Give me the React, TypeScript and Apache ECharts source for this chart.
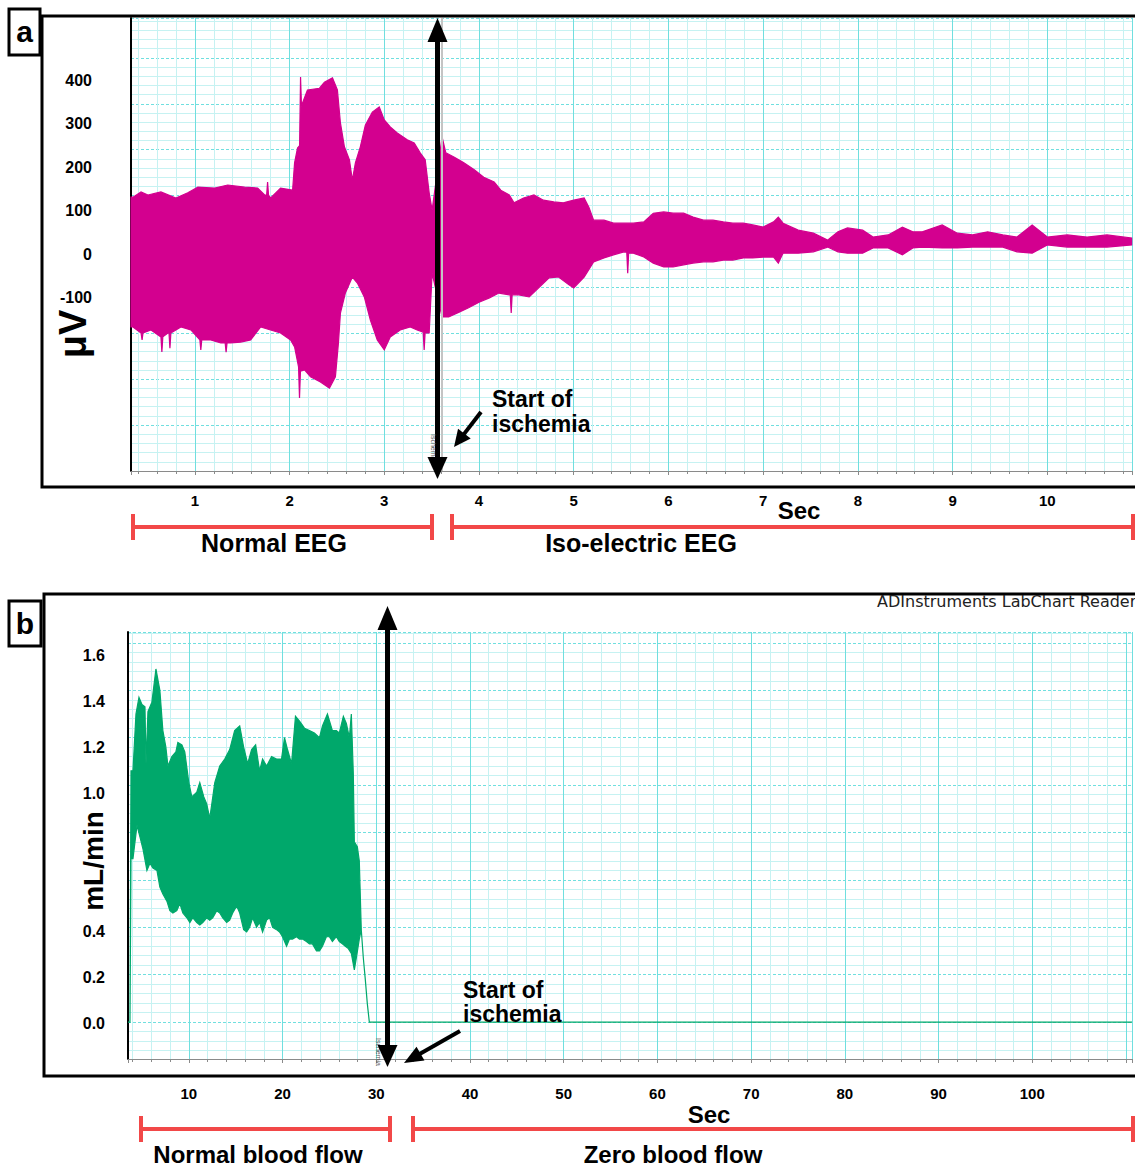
import React, { useEffect, useRef } from 'react';
import * as echarts from 'echarts';

// ---------- Panel a: EEG envelope (time in s, amplitude in µV) ----------
const eegUpper: [number, number][] = [
  [0.326, 131], [0.347, 131], [0.432, 143], [0.505, 136], [0.642, 143], [0.8, 129], [0.926, 141], [1.032, 154],
  [1.21, 152], [1.347, 159], [1.526, 154], [1.663, 152], [1.737, 136], [1.758, 136], [1.768, 166], [1.778, 136],
  [1.8, 129], [1.905, 152], [2.032, 147], [2.053, 210], [2.084, 244], [2.106, 250], [2.116, 408], [2.126, 340],
  [2.137, 348], [2.189, 378], [2.316, 382], [2.368, 396], [2.453, 406], [2.505, 378], [2.537, 302], [2.579, 247],
  [2.632, 217], [2.663, 170], [2.695, 210], [2.747, 247], [2.8, 297], [2.874, 327], [2.947, 339], [3.0, 309],
  [3.063, 293], [3.137, 279], [3.242, 263], [3.316, 256], [3.379, 233], [3.432, 217], [3.474, 141], [3.505, 101],
  [3.61, 270], [3.65, 233], [3.74, 223], [3.84, 210], [3.95, 194], [4.05, 177], [4.16, 166], [4.23, 147],
  [4.32, 136], [4.37, 118], [4.47, 129], [4.58, 136], [4.68, 124], [4.79, 120], [4.89, 118], [5.0, 124],
  [5.11, 129], [5.16, 108], [5.21, 78], [5.32, 78], [5.42, 71], [5.53, 71], [5.63, 71], [5.74, 74],
  [5.84, 94], [5.95, 97], [6.05, 94], [6.16, 94], [6.26, 85], [6.37, 78], [6.47, 78], [6.58, 74],
  [6.68, 71], [6.79, 71], [6.89, 67], [7.0, 62], [7.11, 74], [7.16, 85], [7.21, 71], [7.37, 55],
  [7.53, 48], [7.68, 32], [7.79, 51], [7.89, 60], [8.05, 55], [8.16, 39], [8.32, 44], [8.47, 62],
  [8.58, 51], [8.68, 51], [8.89, 67], [9.05, 48], [9.21, 44], [9.37, 51], [9.53, 44], [9.68, 39],
  [9.84, 67], [10.0, 39], [10.21, 44], [10.42, 39], [10.63, 44], [10.89, 37]
];
const eegLower: [number, number][] = [
  [0.326, -168], [0.347, -168], [0.432, -182], [0.443, -198], [0.453, -182], [0.537, -175], [0.642, -191], [0.652, -226],
  [0.662, -191], [0.716, -182], [0.727, -182], [0.737, -217], [0.747, -182], [0.853, -168], [0.958, -175], [1.053, -198],
  [1.063, -221], [1.073, -198], [1.168, -198], [1.274, -205], [1.32, -205], [1.33, -226], [1.34, -205], [1.379, -205],
  [1.484, -203], [1.589, -198], [1.695, -168], [1.8, -175], [1.905, -182], [2.011, -198], [2.053, -214], [2.095, -260],
  [2.105, -332], [2.115, -270], [2.158, -267], [2.221, -283], [2.326, -295], [2.421, -309], [2.484, -283], [2.516, -205],
  [2.537, -136], [2.589, -90], [2.663, -53], [2.716, -67], [2.789, -99], [2.853, -152], [2.926, -198], [3.0, -221],
  [3.063, -191], [3.168, -175], [3.274, -168], [3.347, -175], [3.411, -180], [3.421, -221], [3.431, -182], [3.474, -182],
  [3.505, -44], [3.61, -145], [3.68, -145], [3.79, -134], [3.89, -124], [4.0, -111], [4.11, -101], [4.21, -90],
  [4.32, -94], [4.33, -94], [4.34, -136], [4.35, -94], [4.42, -94], [4.53, -99], [4.63, -78], [4.74, -55],
  [4.84, -53], [4.95, -71], [5.0, -78], [5.11, -53], [5.21, -18], [5.32, -9], [5.42, -2], [5.53, 5],
  [5.56, 4], [5.57, -44], [5.58, 2], [5.63, 2], [5.74, -7], [5.84, -21], [5.95, -30], [6.05, -30],
  [6.16, -25], [6.26, -21], [6.37, -18], [6.47, -18], [6.58, -14], [6.68, -14], [6.79, -9], [6.89, -9],
  [7.0, -7], [7.11, -7], [7.16, -21], [7.21, 2], [7.37, 2], [7.53, 5], [7.68, 16], [7.79, 5],
  [7.89, 2], [8.05, 2], [8.16, 14], [8.32, 14], [8.47, -2], [8.58, 14], [8.68, 16], [8.89, 14],
  [9.05, 14], [9.21, 16], [9.37, 16], [9.53, 16], [9.68, 5], [9.84, 2], [10.0, 21], [10.21, 16],
  [10.42, 16], [10.63, 16], [10.89, 21]
];

// ---------- Panel b: blood flow envelope (time in s, mL/min) ----------
const flowUpper: [number, number][] = [
  [3.51, 0], [3.72, 0], [3.83, 1.06], [4.04, 1.06], [4.36, 1.3], [4.68, 1.37], [5.0, 1.34], [5.32, 1.33],
  [5.43, 1.09], [5.64, 1.31], [6.06, 1.35], [6.49, 1.49], [6.91, 1.4], [7.23, 1.23], [7.55, 1.16], [7.77, 1.08],
  [8.19, 1.12], [8.62, 1.14], [8.83, 1.18], [9.26, 1.17], [9.57, 1.14], [10.0, 1.01], [10.32, 0.95], [10.85, 0.97],
  [11.17, 1.01], [11.6, 0.95], [11.91, 0.92], [12.23, 0.86], [12.45, 0.92], [12.77, 1.01], [13.3, 1.08], [13.83, 1.11],
  [14.36, 1.15], [14.89, 1.23], [15.43, 1.25], [15.85, 1.16], [16.28, 1.09], [16.7, 1.15], [17.13, 1.17], [17.55, 1.06],
  [17.87, 1.11], [18.3, 1.08], [18.83, 1.12], [19.36, 1.11], [19.89, 1.11], [20.21, 1.2], [20.53, 1.15], [20.96, 1.09],
  [21.38, 1.29], [21.81, 1.27], [22.34, 1.24], [22.87, 1.23], [23.4, 1.22], [23.94, 1.2], [24.26, 1.25], [24.79, 1.3],
  [25.32, 1.23], [25.74, 1.23], [26.06, 1.22], [26.49, 1.29], [26.81, 1.26], [27.13, 1.2], [27.34, 1.3], [27.55, 1.05],
  [27.66, 0.76], [27.98, 0.74], [28.19, 0.68], [28.4, 0.39], [28.62, 0.27], [28.83, 0.18], [29.04, 0.08], [29.26, 0],
  [110.64, 0]
];
const flowLower: [number, number][] = [
  [3.51, 0], [3.72, 0], [3.83, 0.69], [4.04, 0.69], [4.47, 0.83], [4.79, 0.78], [5.11, 0.73], [5.53, 0.64],
  [5.85, 0.67], [6.17, 0.65], [6.6, 0.64], [6.91, 0.57], [7.23, 0.54], [7.66, 0.51], [7.98, 0.47], [8.3, 0.46],
  [8.72, 0.47], [9.04, 0.5], [9.36, 0.46], [9.79, 0.44], [10.11, 0.42], [10.43, 0.44], [10.85, 0.42], [11.17, 0.41],
  [11.49, 0.42], [11.91, 0.44], [12.23, 0.43], [12.55, 0.44], [12.98, 0.47], [13.3, 0.46], [13.62, 0.44], [14.04, 0.42],
  [14.36, 0.43], [14.68, 0.46], [15.11, 0.49], [15.43, 0.46], [15.85, 0.39], [16.17, 0.38], [16.49, 0.4], [16.81, 0.44],
  [17.23, 0.4], [17.55, 0.42], [17.87, 0.38], [18.3, 0.43], [18.62, 0.44], [18.94, 0.4], [19.36, 0.39], [19.68, 0.38],
  [20.0, 0.36], [20.43, 0.32], [20.74, 0.35], [21.06, 0.35], [21.49, 0.36], [21.81, 0.35], [22.13, 0.35], [22.55, 0.34],
  [22.87, 0.33], [23.19, 0.33], [23.62, 0.3], [23.94, 0.3], [24.26, 0.32], [24.68, 0.36], [25.0, 0.36], [25.32, 0.34],
  [25.74, 0.36], [26.06, 0.34], [26.38, 0.33], [26.7, 0.32], [27.02, 0.31], [27.34, 0.29], [27.66, 0.22], [27.87, 0.27],
  [28.19, 0.35], [28.4, 0.39], [28.62, 0.27], [28.83, 0.18], [29.04, 0.08], [29.26, 0], [110.64, 0]
];

// ---------- tick labels ----------
const eegTickLabels = [-100, 0, 100, 200, 300, 400];
const eegSecLabels = [1, 2, 3, 4, 5, 6, 7, 8, 9, 10];
const flowTickLabels = [0.0, 0.2, 0.4, 1.0, 1.2, 1.4, 1.6];
const flowSecLabels = [10, 20, 30, 40, 50, 60, 70, 80, 90, 100];

const MAGENTA = '#d3008f';
const GREEN = '#00a86b';
const GRID_MAJOR = '#70dfdf';
const GRID_MINOR = '#c6f2f2';
const RED = '#f24848';
const FONT = "'Liberation Sans', Arial, Helvetica, sans-serif";

function bandRenderer(upper: [number, number][], lower: [number, number][], color: string) {
  return (params: any, api: any) => {
    if (params.dataIndex !== 0) return null;
    const pts: number[][] = [];
    for (let i = 0; i < upper.length; i++) pts.push(api.coord(upper[i]));
    for (let i = lower.length - 1; i >= 0; i--) pts.push(api.coord(lower[i]));
    return {
      type: 'polygon',
      shape: { points: pts },
      style: { fill: color, stroke: color, lineWidth: 1.2 }
    };
  };
}

const txt = (text: string, x: number, y: number, size: number, o: any = {}) => ({
  type: 'text',
  x,
  y,
  z: 100,
  rotation: o.rotation || 0,
  style: {
    text,
    fontSize: size,
    fontWeight: o.weight || 'bold',
    fontFamily: o.family || FONT,
    fill: o.color || '#000',
    textAlign: o.align || 'center',
    textVerticalAlign: 'middle',
    align: o.align || 'center',
    verticalAlign: 'middle'
  }
});

const seg = (x1: number, y1: number, x2: number, y2: number, w: number, color: string) => ({
  type: 'line',
  z: 100,
  shape: { x1, y1, x2, y2 },
  style: { stroke: color, lineWidth: w }
});

const head = (tipX: number, tipY: number, fromX: number, fromY: number, len: number, half: number) => {
  const dx = tipX - fromX;
  const dy = tipY - fromY;
  const L = Math.hypot(dx, dy);
  const ux = dx / L;
  const uy = dy / L;
  const bx = tipX - ux * len;
  const by = tipY - uy * len;
  return {
    type: 'polygon',
    z: 101,
    shape: { points: [[tipX, tipY], [bx - uy * half, by + ux * half], [bx + uy * half, by - ux * half]] },
    style: { fill: '#000' }
  };
};

const arrow = (fx: number, fy: number, tx: number, ty: number, w: number, len: number, half: number) => {
  const dx = tx - fx;
  const dy = ty - fy;
  const L = Math.hypot(dx, dy);
  const bx = tx - (dx / L) * (len - 2);
  const by = ty - (dy / L) * (len - 2);
  return [seg(fx, fy, bx, by, w, '#000'), head(tx, ty, fx, fy, len, half)];
};

const bracket = (x1: number, x2: number, y: number, h: number) => [
  seg(x1, y, x2, y, 4, RED),
  seg(x1, y - h, x1, y + h, 4, RED),
  seg(x2, y - h, x2, y + h, 4, RED)
];

const labelStyle = { fontSize: 15, fontWeight: 'bold', color: '#000', fontFamily: FONT };

export default function App() {
  const ref = useRef<HTMLDivElement>(null);

  useEffect(() => {
    if (!ref.current) return;
    const chart = echarts.init(ref.current, null, { renderer: 'svg' });

    const graphics: any[] = [
      // ----- panel a frame & label -----
      { type: 'rect', z: 99, shape: { x: 42, y: 16, width: 1200, height: 471 }, style: { fill: 'none', stroke: '#000', lineWidth: 3 } },
      { type: 'rect', z: 99, shape: { x: 9, y: 9, width: 31, height: 46 }, style: { fill: '#fff', stroke: '#000', lineWidth: 3 } },
      txt('a', 24.5, 31, 30),
      txt('μV', 73, 334, 38, { rotation: Math.PI / 2 }),
      txt('Sec', 799, 510, 24),
      ...bracket(133, 432, 527, 13),
      ...bracket(452, 1133, 527, 13),
      txt('Normal EEG', 274, 543, 25),
      txt('Iso-electric EEG', 641, 543, 25),
      seg(442, 18, 442, 471, 2, '#c4c4c4'),
      seg(437.5, 38, 437.5, 460, 5, '#000'),
      head(437.5, 18, 437.5, 60, 24, 10),
      head(437.5, 479, 437.5, 440, 22, 10),
      txt('Ischemia', 433, 448, 7, { rotation: -Math.PI / 2, weight: 'normal', color: '#555' }),
      txt('Start of', 492, 399, 23, { align: 'left' }),
      txt('ischemia', 492, 424, 23, { align: 'left' }),
      ...arrow(481, 412, 454, 447, 4, 17, 8),

      // ----- panel b frame & label -----
      { type: 'rect', z: 99, shape: { x: 44, y: 594, width: 1200, height: 482 }, style: { fill: 'none', stroke: '#000', lineWidth: 3 } },
      { type: 'rect', z: 99, shape: { x: 9, y: 601, width: 32, height: 45 }, style: { fill: '#fff', stroke: '#000', lineWidth: 3 } },
      txt('b', 25, 623, 30),
      txt('ADInstruments LabChart Reader', 877, 601, 16, { align: 'left', weight: 'normal', family: "'DejaVu Sans', sans-serif", color: '#222' }),
      txt('mL/min', 93, 861, 28, { rotation: Math.PI / 2 }),
      txt('Sec', 709, 1114, 24),
      ...bracket(141, 390, 1129, 13),
      ...bracket(413, 1133, 1129, 13),
      txt('Normal blood flow', 258, 1154, 24),
      txt('Zero blood flow', 673, 1154, 24),
      seg(387.5, 626, 387.5, 1048, 5, '#000'),
      head(387.5, 606, 387.5, 650, 24, 10),
      head(387.5, 1067, 387.5, 1030, 22, 10),
      txt('Ischemia', 378, 1052, 7, { rotation: -Math.PI / 2, weight: 'normal', color: '#555' }),
      txt('Start of', 463, 990, 23, { align: 'left' }),
      txt('ischemia', 463, 1014, 23, { align: 'left' }),
      ...arrow(460, 1031, 404, 1063, 4, 19, 8)
    ];

    const option: any = {
      animation: false,
      backgroundColor: '#fff',
      grid: [
        { left: 131, top: 18, width: 1004, height: 453 },
        { left: 128, top: 632, width: 1007, height: 427 }
      ],
      xAxis: [
        {
          gridIndex: 0,
          type: 'value',
          min: 0.326,
          max: 10.894,
          minInterval: 1,
          maxInterval: 1,
          splitNumber: 10,
          axisLine: { show: true, onZero: false, lineStyle: { color: '#8a8a8a', width: 1 } },
          axisTick: { show: true, length: 4, lineStyle: { color: '#8a8a8a' } },
          minorTick: { show: true, splitNumber: 5, length: 3, lineStyle: { color: '#8a8a8a' } },
          axisLabel: {
            ...labelStyle,
            margin: 22,
            formatter: (v: number) => (eegSecLabels.includes(v) ? String(v) : '')
          },
          splitLine: { show: true, lineStyle: { color: GRID_MAJOR, width: 1 } },
          minorSplitLine: { show: true, lineStyle: { color: GRID_MINOR, width: 1 } }
        },
        {
          gridIndex: 1,
          type: 'value',
          min: 3.51,
          max: 110.64,
          minInterval: 10,
          maxInterval: 10,
          splitNumber: 11,
          axisLine: { show: true, onZero: false, lineStyle: { color: '#8a8a8a', width: 1 } },
          axisTick: { show: true, length: 4, lineStyle: { color: '#8a8a8a' } },
          minorTick: { show: true, splitNumber: 5, length: 3, lineStyle: { color: '#8a8a8a' } },
          axisLabel: {
            ...labelStyle,
            margin: 27,
            formatter: (v: number) => (flowSecLabels.includes(v) ? String(v) : '')
          },
          splitLine: { show: true, lineStyle: { color: GRID_MAJOR, width: 1 } },
          minorSplitLine: { show: true, lineStyle: { color: GRID_MINOR, width: 1 } }
        }
      ],
      yAxis: [
        {
          gridIndex: 0,
          type: 'value',
          position: 'left',
          min: -500,
          max: 543.8,
          minInterval: 100,
          maxInterval: 100,
          splitNumber: 10,
          axisLine: { show: true, onZero: false, lineStyle: { color: '#000', width: 2 } },
          axisTick: { show: false },
          splitLine: { show: false },
          axisLabel: {
            ...labelStyle,
            fontSize: 16,
            margin: 39,
            formatter: (v: number) => (eegTickLabels.includes(v) ? String(v) : '')
          }
        },
        {
          gridIndex: 0,
          type: 'value',
          position: 'right',
          min: 0,
          max: 9.869,
          minInterval: 1,
          maxInterval: 1,
          splitNumber: 10,
          axisLine: { show: false },
          axisTick: { show: false },
          axisLabel: { show: false },
          splitLine: { show: true, lineStyle: { color: GRID_MAJOR, width: 1, type: [3, 2] } },
          minorSplitLine: { show: true, lineStyle: { color: GRID_MINOR, width: 1 } }
        },
        {
          gridIndex: 1,
          type: 'value',
          position: 'left',
          min: -0.156,
          max: 1.646,
          minInterval: 0.2,
          maxInterval: 0.2,
          splitNumber: 9,
          axisLine: { show: true, onZero: false, lineStyle: { color: '#000', width: 2 } },
          axisTick: { show: false },
          axisLabel: { show: false },
          splitLine: { show: true, lineStyle: { color: GRID_MAJOR, width: 1, type: [3, 2] } },
          minorSplitLine: { show: true, lineStyle: { color: GRID_MINOR, width: 1 } }
        },
        {
          gridIndex: 1,
          type: 'value',
          position: 'left',
          min: -0.1565,
          max: 1.7,
          minInterval: 0.2,
          maxInterval: 0.2,
          splitNumber: 9,
          axisLine: { show: false },
          axisTick: { show: false },
          splitLine: { show: false },
          axisLabel: {
            ...labelStyle,
            fontSize: 16,
            margin: 23,
            formatter: (v: number) =>
              flowTickLabels.some((t) => Math.abs(t - v) < 1e-6) ? v.toFixed(1) : ''
          }
        }
      ],
      series: [
        {
          type: 'custom',
          name: 'EEG',
          xAxisIndex: 0,
          yAxisIndex: 0,
          silent: true,
          z: 3,
          data: eegUpper,
          renderItem: bandRenderer(eegUpper, eegLower, MAGENTA)
        },
        {
          type: 'custom',
          name: 'Blood flow',
          xAxisIndex: 1,
          yAxisIndex: 2,
          silent: true,
          z: 3,
          data: flowUpper,
          renderItem: bandRenderer(flowUpper, flowLower, GREEN)
        }
      ],
      graphic: { elements: graphics }
    };

    chart.setOption(option);
    return () => chart.dispose();
  }, []);

  return (
    <div
      ref={ref}
      style={{ position: 'absolute', left: 0, top: 0, width: 1135, height: 1169, background: '#fff' }}
    />
  );
}
